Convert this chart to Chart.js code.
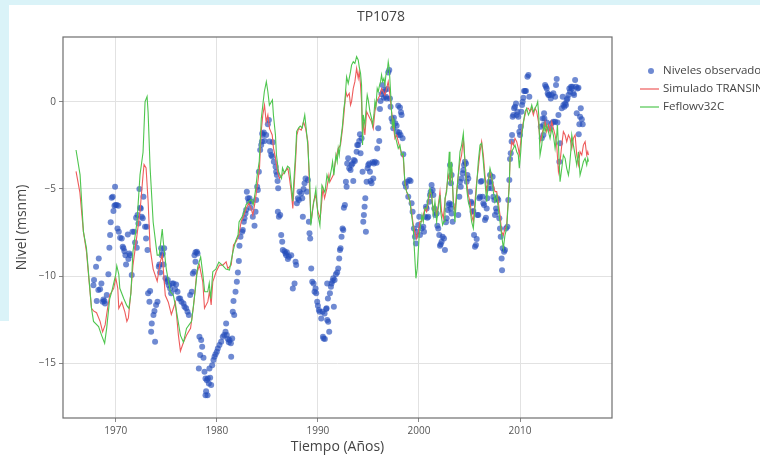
<!DOCTYPE html>
<html>
<head>
<meta charset="utf-8">
<script src="https://cdn.jsdelivr.net/npm/chart.js@4.4.1/dist/chart.umd.min.js"></script>
<style>
  html, body { margin: 0; padding: 0; }
  body { width: 760px; height: 455px; overflow: hidden; background: #daf3f8; position: relative; font-family: "Open Sans", sans-serif; }
  #w1 { position: absolute; left: 9px; top: 5px; right: 0; bottom: 0; background: #fff; }
  #w2 { position: absolute; left: 0; top: 321px; width: 9px; bottom: 0; background: #fff; }
  canvas { position: absolute; left: 0; top: 0; }
</style>
</head>
<body>
<div id="w1"></div><div id="w2"></div>
<canvas id="c" width="760" height="455"></canvas>
<script>
const chartTitle = "TP1078";
const xAxisTitle = "Tiempo (Años)";
const yAxisTitle = "Nivel (msnm)";
const seriesNames = ["Niveles observados", "Simulado TRANSIN", "Feflowv32C"];
const xTicks = [1970, 1980, 1990, 2000, 2010];
const yTicks = [-15, -10, -5, 0];
const xRange = [1964.78, 2019.1];
const yRange = [-18.14, 3.71];

// Observed levels [year, level]
const observedPoints = [
[1967.79,-10.52],[1967.85,-10.23],[1968.05,-9.46],[1968.32,-8.99],[1968.12,-11.43],[1968.28,-10.80],[1968.45,-10.75],[1968.58,-10.42],
[1968.71,-11.47],[1968.78,-11.34],[1968.88,-11.43],[1968.94,-11.57],[1969.11,-11.09],[1969.27,-9.90],[1969.37,-8.37],[1969.44,-7.65],
[1969.50,-6.92],[1969.60,-5.51],[1969.70,-5.45],[1969.77,-6.27],[1969.87,-5.97],[1969.97,-5.93],[1970.10,-5.93],[1970.26,-5.97],
[1969.93,-4.88],[1970.17,-7.27],[1970.30,-7.46],[1970.43,-7.80],[1970.59,-7.84],[1970.69,-8.32],[1970.76,-8.41],[1970.86,-8.57],
[1970.96,-8.80],[1971.02,-9.33],[1971.19,-7.61],[1971.25,-9.02],[1971.35,-8.70],[1971.42,-8.80],[1971.58,-9.94],[1971.65,-7.46],
[1971.82,-7.46],[1971.91,-8.07],[1972.01,-6.65],[1972.08,-8.37],[1972.15,-6.50],[1972.24,-6.98],[1972.34,-5.01],[1972.41,-6.08],
[1972.48,-6.12],[1972.57,-6.60],[1972.67,-6.69],[1972.74,-5.45],[1972.90,-7.17],[1973.07,-7.17],[1973.00,-7.84],[1973.14,-8.51],
[1973.20,-10.99],[1973.40,-10.86],[1973.33,-11.47],[1973.50,-13.19],[1973.56,-12.72],[1973.73,-12.24],[1973.83,-12.01],[1973.89,-13.77],
[1973.99,-11.66],[1974.13,-11.47],[1974.26,-9.46],[1974.32,-9.33],[1974.39,-9.79],[1974.49,-8.41],[1974.55,-8.80],[1974.65,-8.70],
[1974.72,-9.33],[1974.79,-8.41],[1974.92,-10.13],[1975.05,-10.33],[1975.15,-10.23],[1975.25,-10.52],[1975.38,-10.71],[1975.48,-10.99],
[1975.58,-10.42],[1975.71,-10.42],[1975.87,-10.75],[1975.97,-10.48],[1976.11,-10.90],[1976.24,-11.28],[1976.37,-11.28],[1976.50,-11.47],
[1976.70,-11.57],[1976.80,-11.76],[1976.96,-11.85],[1977.10,-12.05],[1977.23,-12.24],[1977.36,-11.09],[1977.52,-10.90],[1977.62,-9.85],
[1977.76,-9.75],[1977.89,-9.18],[1978.02,-8.60],[1978.09,-8.70],[1977.79,-8.80],[1977.89,-8.64],
[1978.28,-13.48],[1978.45,-13.67],[1978.55,-14.05],[1978.35,-14.53],[1978.68,-14.68],[1978.22,-15.30],[1978.78,-15.49],[1978.88,-15.87],
[1979.01,-15.97],[1979.11,-15.87],[1979.21,-16.16],[1979.34,-15.83],[1979.44,-16.25],[1978.94,-16.60],[1979.08,-16.83],[1978.88,-16.83],
[1979.27,-15.30],[1979.54,-15.11],[1979.67,-14.82],[1979.77,-14.63],[1979.87,-14.49],[1980.00,-14.34],[1980.10,-14.15],[1980.26,-13.96],
[1980.43,-13.77],[1980.59,-13.48],[1980.73,-13.38],[1980.86,-13.19],[1980.92,-12.72],[1980.99,-13.38],[1981.09,-13.61],[1981.19,-13.80],
[1981.25,-13.67],[1981.39,-13.86],[1981.42,-14.63],[1981.52,-13.58],[1981.58,-12.05],[1981.65,-11.43],[1981.72,-12.24],[1981.85,-10.90],
[1981.98,-10.33],[1982.08,-9.79],[1982.18,-9.14],[1982.24,-8.26],[1982.34,-7.74],[1982.51,-7.46],[1982.57,-7.36],[1982.67,-6.88],
[1982.74,-6.69],[1982.84,-6.41],[1982.90,-6.21],[1982.97,-5.16],[1983.07,-5.54],[1983.17,-5.74],[1983.23,-5.54],[1983.33,-6.08],
[1983.43,-5.74],[1983.56,-6.60],[1983.73,-7.11],[1983.83,-6.31],[1983.89,-5.64],[1983.99,-4.88],[1984.06,-5.07],[1984.16,-4.02],
[1984.29,-2.77],[1984.39,-2.49],[1984.46,-2.29],[1984.49,-1.82],[1984.55,-1.91],[1984.65,-1.76],[1984.72,-2.26],[1984.88,-1.91],
[1985.05,-1.30],[1985.15,-1.05],[1985.21,-2.29],[1985.28,-2.83],[1985.38,-3.06],[1985.48,-3.15],[1985.54,-2.33],[1985.64,-3.44],
[1985.81,-3.73],[1985.87,-4.02],[1985.94,-4.21],[1986.01,-4.55],[1986.07,-4.97],[1986.04,-6.31],[1986.14,-6.60],[1986.27,-6.50],
[1986.37,-7.65],[1986.47,-8.03],[1986.53,-8.51],[1986.70,-8.57],[1986.80,-8.70],[1986.86,-8.80],[1986.93,-8.64],[1987.03,-9.02],
[1987.13,-8.89],[1987.36,-8.80],[1987.52,-10.71],[1987.69,-10.42],[1987.79,-9.18],[1987.85,-9.37],[1987.92,-5.83],[1988.02,-5.54],
[1988.12,-5.64],[1988.18,-5.16],[1988.35,-5.26],[1988.45,-5.54],[1988.51,-6.60],[1988.58,-5.01],[1988.68,-4.68],[1988.78,-4.40],
[1988.91,-5.16],[1989.01,-4.49],[1989.11,-6.88],[1989.17,-7.55],[1989.24,-7.84],[1989.34,-9.56],[1989.44,-10.33],[1989.57,-10.42],
[1989.67,-10.90],[1989.77,-10.71],[1989.83,-10.99],[1989.93,-11.47],[1990.00,-11.70],[1990.10,-11.95],[1990.17,-12.05],[1990.33,-12.43],
[1990.50,-13.48],[1990.56,-13.58],[1990.66,-12.14],[1990.82,-11.89],[1990.92,-10.42],[1990.99,-11.28],
[1990.46,-12.05],[1990.69,-13.61],[1990.86,-11.85],[1990.92,-12.52],[1991.02,-12.62],[1991.12,-13.19],[1991.19,-10.99],[1991.29,-10.61],
[1991.35,-10.42],[1991.45,-10.29],[1991.58,-11.76],[1991.52,-10.13],[1991.65,-10.23],[1991.78,-9.90],[1991.91,-9.79],[1992.01,-9.56],
[1992.11,-8.99],[1992.18,-8.51],[1992.24,-8.41],[1992.34,-7.74],[1992.44,-7.27],[1992.51,-7.36],[1992.57,-6.08],[1992.67,-5.93],
[1992.77,-4.59],[1992.84,-4.88],[1992.90,-3.54],[1993.00,-3.25],[1993.10,-3.82],[1993.23,-3.92],[1993.33,-3.63],[1993.43,-3.54],
[1993.50,-4.55],[1993.56,-3.35],[1993.66,-3.40],[1993.83,-2.87],[1993.89,-2.49],[1993.99,-2.49],[1994.09,-2.26],[1994.16,-1.87],
[1994.22,-2.96],[1994.32,-2.10],[1994.42,-4.02],[1994.49,-6.88],[1994.55,-6.50],[1994.62,-6.02],[1994.69,-5.54],[1994.75,-7.46],
[1994.82,-4.59],[1994.92,-3.82],[1994.98,-3.63],[1995.08,-3.54],[1995.15,-4.02],[1995.21,-4.55],[1995.31,-4.68],[1995.41,-3.48],
[1995.48,-4.40],[1995.54,-3.54],[1995.64,-3.44],[1995.81,-3.50],[1995.87,-2.68],[1995.97,-1.53],[1996.07,-2.26],[1996.14,-0.42],
[1996.20,0.04],[1996.30,0.42],[1996.40,0.96],[1996.47,0.57],[1996.53,0.23],[1996.63,0.67],[1996.73,0.29],[1996.80,0.19],
[1996.86,0.73],[1996.96,1.68],[1997.06,1.82],[1997.13,0.19],[1997.19,-0.29],[1997.29,-0.96],[1997.39,-1.15],[1997.46,-1.53],
[1997.52,-0.92],[1997.66,-1.24],[1997.79,-1.38],[1997.85,-1.72],[1997.95,-0.23],[1998.12,-0.34],[1998.22,-0.61],[1998.28,-0.76],
[1997.99,-1.91],[1998.05,-1.76],[1998.18,-1.91],[1998.38,-2.10],[1998.45,-3.02],[1998.61,-4.68],[1998.71,-4.88],[1998.84,-4.59],
[1998.94,-5.45],[1999.04,-4.49],[1999.17,-4.55],[1999.27,-5.83],[1999.37,-6.31],[1999.50,-7.27],[1999.60,-7.74],[1999.70,-8.13],
[1999.77,-7.46],[1999.93,-7.07],[2000.03,-6.60],[2000.10,-7.65],[2000.26,-7.27],[2000.43,-7.17],[2000.50,-7.46],[2000.59,-6.60],
[2000.69,-6.02],[2000.76,-6.12],[2000.83,-6.65],[2000.92,-6.60],[2001.02,-5.74],[2001.09,-5.35],[2001.16,-5.16],[2001.25,-4.78],
[2001.35,-5.07],[2001.42,-5.35],[2001.52,-6.12],[2001.62,-6.50],[2001.75,-6.41],[2001.82,-7.11],[2001.91,-7.27],[2002.01,-7.65],
[2002.08,-8.26],[2002.15,-8.18],[2002.24,-8.03],[2002.34,-7.74],[2002.48,-7.84],[2002.57,-8.51],[2002.67,-6.92],[2002.74,-6.69],
[2002.84,-6.21],[2002.94,-5.93],[2003.00,-5.83],[2003.14,-6.12],[2003.23,-6.41],
[2003.07,-3.63],[2003.23,-4.21],[2003.17,-4.68],[2003.23,-5.89],[2003.33,-6.88],[2003.89,-6.50],[2003.99,-5.45],[2004.06,-4.59],
[2004.13,-4.88],[2004.22,-4.40],[2004.32,-4.11],[2004.39,-3.92],[2004.46,-3.63],[2004.55,-3.44],[2004.65,-3.54],[2004.72,-4.59],
[2004.79,-4.21],[2004.88,-4.40],[2005.05,-5.16],[2005.15,-5.74],[2005.21,-5.83],[2005.31,-6.31],[2005.38,-6.27],[2005.45,-7.65],
[2005.54,-8.32],[2005.64,-8.22],[2005.71,-7.88],[2005.78,-6.50],[2005.87,-6.50],[2005.97,-5.54],[2006.04,-5.45],[2006.11,-4.59],
[2006.20,-4.55],[2006.30,-5.45],[2006.37,-5.83],[2006.44,-5.93],[2006.53,-6.79],[2006.63,-6.65],[2006.70,-6.12],[2006.77,-5.54],
[2006.86,-4.97],[2006.96,-4.59],[2007.03,-4.21],[2007.10,-4.63],[2007.19,-4.97],[2007.29,-4.30],[2007.36,-5.45],[2007.46,-5.64],
[2007.52,-6.50],[2007.62,-6.12],[2007.69,-6.31],[2007.76,-5.54],[2007.85,-5.64],[2007.95,-6.69],[2008.02,-7.27],[2008.09,-7.74],
[2008.18,-8.99],[2008.22,-9.66],[2008.28,-8.41],[2008.42,-8.60],[2008.51,-8.51],[2008.61,-7.27],[2008.75,-7.17],[2008.84,-5.64],
[2008.94,-4.49],[2009.01,-3.29],[2009.08,-2.96],[2009.17,-2.29],[2009.21,-1.91],[2009.27,-0.86],[2009.34,-0.76],[2009.41,-0.38],
[2009.50,-0.29],[2009.60,-0.10],[2009.67,-0.76],[2009.74,-0.57],[2009.83,-0.86],[2009.93,-1.72],[2010.00,-1.91],[2010.07,-1.43],
[2010.13,-0.57],[2010.20,-0.19],[2010.26,0.00],[2010.33,0.23],[2010.40,0.61],[2010.50,0.61],[2010.59,0.61],[2010.73,1.43],
[2010.83,1.53],[2010.92,0.29],[2012.05,-1.43],[2012.15,-2.10],[2012.24,-0.96],[2012.31,-1.34],[2012.38,-0.67],[2012.48,0.96],
[2012.57,0.86],[2012.64,0.76],[2012.74,0.48],[2012.81,0.38],[2012.90,0.38],[2013.04,0.19],[2013.14,0.38],[2013.30,0.48],
[2013.47,0.29],[2013.56,0.96],[2013.63,1.30],[2013.70,-1.19],[2013.80,-0.76],[2013.89,-3.44],[2013.96,-2.39],[2014.13,-0.38],
[2014.22,0.29],[2014.29,-0.19],[2014.39,-0.29],[2014.46,-0.10],[2014.55,-0.19],[2014.62,0.10],[2014.69,0.19],[2014.79,0.38],
[2014.88,0.76],[2014.95,0.57],[2015.05,0.86],[2015.12,0.76],[2015.18,0.86],[2015.28,0.48],[2015.35,0.38],[2015.45,1.24],
[2015.54,0.86],[2015.61,-0.67],[2015.68,0.76],[2015.78,0.80],[2015.87,-1.30],[2015.94,-0.86],[2016.01,-0.38],[2016.11,-1.01],
[2016.20,-1.30],[2015.81,-1.87],[2012.41,-0.96],[2013.47,-1.15],[2013.30,-1.15],[2013.14,-1.24],[2012.64,-1.19],[2012.31,-1.91],
[2012.97,-1.53]
];

// Simulated TRANSIN [year, level]
const transinPoints = [
[1966.07,-4.0],[1966.45,-5.2],[1966.8,-7.45],[1967.1,-8.6],[1967.6,-11.85],[1967.8,-12.0],[1968.1,-12.1],[1968.45,-12.6],
[1968.7,-13.2],[1968.95,-12.8],[1969.1,-12.2],[1969.4,-11.1],[1969.6,-10.9],[1969.8,-10.7],[1970.0,-10.1],[1970.2,-10.7],
[1970.3,-11.85],[1970.6,-11.5],[1970.9,-12.05],[1971.1,-12.6],[1971.25,-12.4],[1971.5,-10.9],[1971.7,-9.4],[1972.1,-7.65],
[1972.4,-6.3],[1972.7,-4.2],[1972.8,-3.6],[1973.0,-3.8],[1973.2,-5.7],[1973.4,-8.4],[1973.7,-9.6],[1974.1,-10.3],
[1974.4,-9.2],[1974.6,-8.8],[1974.9,-11.1],[1975.2,-11.5],[1975.5,-12.2],[1975.9,-11.5],[1976.2,-13.4],[1976.4,-14.3],
[1976.7,-13.8],[1977.0,-13.4],[1977.4,-13.0],[1977.7,-11.7],[1978.0,-9.9],[1978.28,-9.37],[1978.61,-10.33],[1978.78,-11.85],
[1979.11,-11.47],[1979.27,-10.90],[1979.44,-11.66],[1979.6,-10.33],[1979.93,-9.75],[1980.26,-9.37],[1980.59,-9.37],[1980.92,-9.18],
[1981.09,-9.56],[1981.42,-9.37],[1981.65,-8.22],[1981.91,-8.03],[1982.18,-7.65],[1982.41,-6.88],[1982.64,-6.60],[1982.9,-6.12],
[1983.17,-5.83],[1983.4,-6.12],[1983.56,-6.50],[1983.76,-5.83],[1984.06,-4.59],[1984.22,-3.82],[1984.39,-1.72],[1984.55,-0.76],
[1984.72,-0.19],[1984.88,-1.15],[1985.05,-0.76],[1985.21,-1.53],[1985.48,-1.91],[1985.61,-2.68],[1985.81,-3.25],[1986.01,-4.02],
[1986.2,-4.40],[1986.47,-4.21],[1986.7,-4.02],[1987.03,-3.82],[1987.19,-4.40],[1987.36,-5.16],[1987.52,-6.12],[1987.79,-3.44],
[1987.92,-1.91],[1988.09,-1.53],[1988.35,-1.63],[1988.58,-1.15],[1988.78,-1.53],[1989.01,-2.29],[1989.17,-4.97],[1989.34,-6.88],
[1989.57,-5.74],[1989.77,-5.35],[1990.0,-6.31],[1990.23,-6.69],[1990.5,-4.97],[1990.66,-5.54],[1990.89,-4.97],[1991.09,-4.21],
[1991.19,-4.59],[1991.52,-4.21],[1991.78,-3.25],[1992.01,-2.68],[1992.24,-2.49],[1992.44,-1.53],[1992.57,-0.76],[1992.77,0.57],
[1992.9,0.29],[1993.1,0.48],[1993.23,-0.19],[1993.33,0],[1993.5,0.76],[1993.66,1.15],[1993.83,1.91],[1993.99,1.34],
[1994.09,1.72],[1994.22,0.96],[1994.32,0],[1994.42,-1.91],[1994.49,-1.15],[1994.65,-1.91],[1994.82,-0.57],[1994.98,-0.76],
[1995.15,-0.96],[1995.31,-1.15],[1995.48,-1.53],[1995.64,-0.57],[1995.81,0],[1995.97,0.19],[1996.14,0.38],[1996.3,0.76],
[1996.47,0.57],[1996.63,0.38],[1996.8,0.76],[1996.96,1.15],[1997.13,0.38],[1997.29,-0.57],[1997.46,-1.34],[1997.62,-2.10],
[1997.79,-1.91],[1998.12,-2.68],[1998.45,-3.25],[1998.61,-4.59],[1998.78,-5.16],[1999.11,-5.74],[1999.27,-6.31],[1999.44,-7.07],
[1999.6,-7.46],[1999.77,-7.84],[1999.93,-7.46],[2000.1,-6.88],[2000.26,-6.88],[2000.43,-6.50],[2000.59,-6.12],[2000.76,-6.31],
[2000.92,-5.74],[2001.09,-5.16],[2001.25,-5.35],[2001.42,-6.31],[2001.58,-5.93],[2001.75,-6.50],[2001.91,-5.93],[2002.08,-5.16],
[2002.24,-6.31],[2002.41,-6.69],[2002.57,-5.74],[2002.74,-4.97],[2002.9,-4.21],[2003.07,-4.59],[2003.23,-3.82],[2003.4,-5.74],
[2003.56,-6.31],[2003.73,-5.16],[2003.89,-4.21],[2004.06,-3.44],[2004.22,-3.06],[2004.39,-2.10],[2004.55,-3.44],[2004.72,-4.59],
[2004.88,-5.35],[2005.05,-5.74],[2005.21,-6.50],[2005.38,-6.88],[2005.54,-5.74],[2005.71,-4.59],[2005.87,-3.82],[2006.04,-2.87],
[2006.2,-2.29],[2006.37,-3.06],[2006.53,-4.21],[2006.7,-5.16],[2006.86,-4.59],[2007.03,-4.02],[2007.19,-4.40],[2007.36,-4.78],
[2007.52,-5.16],[2007.69,-5.16],[2007.85,-5.74],[2008.02,-6.50],[2008.18,-7.46],[2008.35,-7.65],[2008.51,-7.27],[2008.68,-7.07],
[2008.84,-5.54],[2008.94,-4.59],[2009.01,-3.44],[2009.17,-2.29],[2009.34,-2.49],[2009.5,-2.10],[2009.67,-2.29],[2009.83,-2.68],
[2009.93,-3.06],[2010.07,-2.29],[2010.17,-1.72],[2010.33,-1.15],[2010.5,-0.76],[2010.66,-0.38],[2010.83,-0.38],[2010.99,-0.57],
[2011.16,-0.38],[2011.32,-0.76],[2011.49,-0.38],[2011.65,-0.57],[2011.82,-1.15],[2011.98,-2.29],[2012.15,-1.91],[2012.31,-1.53],
[2012.48,-1.15],[2012.64,-1.72],[2012.81,-1.34],[2012.97,-1.72],[2013.14,-1.15],[2013.3,-1.53],[2013.47,-1.91],[2013.63,-2.49],
[2013.8,-4.02],[2013.96,-3.44],[2014.13,-2.49],[2014.29,-1.72],[2014.46,-1.91],[2014.62,-2.29],[2014.79,-1.91],[2014.95,-2.10],
[2015.12,-2.68],[2015.28,-2.10],[2015.45,-1.91],[2015.61,-3.06],[2015.78,-3.63],[2015.94,-2.87],[2016.11,-3.06],[2016.27,-2.49],
[2016.44,-2.29],[2016.6,-3.06],[2016.7,-2.87],[2016.77,-3.06]
];

// Feflowv32C [year, level]
const feflowPoints = [
[1966.07,-2.77],[1966.47,-4.2],[1966.8,-7.45],[1967.1,-8.4],[1967.6,-11.85],[1967.8,-12.6],[1968.3,-12.9],[1968.6,-13.4],
[1968.9,-13.85],[1969.1,-13.0],[1969.4,-11.3],[1969.6,-10.9],[1970.0,-9.9],[1970.1,-9.4],[1970.3,-9.9],[1970.4,-10.7],
[1970.8,-11.3],[1971.1,-11.7],[1971.3,-11.85],[1971.5,-11.0],[1971.7,-8.6],[1972.1,-6.9],[1972.4,-4.2],[1972.7,-2.9],
[1972.9,0],[1973.1,0.3],[1973.2,-0.6],[1973.4,-3.8],[1973.7,-6.9],[1974.1,-8.8],[1974.3,-8.8],[1974.6,-7.3],
[1974.7,-8.0],[1975.0,-9.6],[1975.4,-10.9],[1975.7,-11.1],[1976.0,-12.0],[1976.4,-13.4],[1976.7,-13.8],[1977.0,-13.0],
[1977.5,-12.6],[1977.85,-10.9],[1978.1,-9.5],[1978.4,-8.9],[1978.6,-9.8],[1978.8,-10.9],[1979.1,-10.9],[1979.25,-10.4],
[1979.4,-11.3],[1979.6,-9.75],[1979.9,-9.6],[1980.2,-9.2],[1980.6,-9.4],[1980.9,-9.6],[1981.25,-9.65],[1981.6,-8.6],
[1981.85,-8.0],[1982.1,-7.65],[1982.2,-6.9],[1982.5,-6.6],[1982.7,-6.3],[1982.9,-5.9],[1983.2,-5.7],[1983.4,-5.6],
[1983.6,-5.9],[1983.8,-5.2],[1984.0,-4.2],[1984.2,-3.4],[1984.4,-0.96],[1984.55,-0.2],[1984.7,0.57],[1984.9,1.15],
[1985.05,0.57],[1985.2,-0.2],[1985.4,0],[1985.5,0.1],[1985.6,-0.76],[1985.8,-1.9],[1985.9,-3.06],[1986.1,-4.0],
[1986.4,-4.4],[1986.5,-3.8],[1986.7,-4.1],[1987.0,-3.7],[1987.2,-3.8],[1987.4,-5.0],[1987.5,-5.7],[1987.8,-2.9],
[1987.9,-1.7],[1988.1,-1.5],[1988.25,-1.4],[1988.45,-1.5],[1988.7,-0.76],[1988.8,-1.3],[1989.0,-2.5],[1989.2,-4.6],
[1989.3,-7.1],[1989.5,-6.1],[1989.8,-5.0],[1990.0,-6.5],[1990.2,-7.1],[1990.4,-4.8],[1990.7,-5.2],[1990.9,-4.2],
[1991.1,-4.6],[1991.35,-3.82],[1991.45,-3.44],[1991.58,-4.21],[1991.78,-3.06],[1991.91,-3.44],[1992.01,-2.68],[1992.11,-3.06],
[1992.24,-2.29],[1992.44,-1.34],[1992.57,-0.38],[1992.67,0],[1992.84,1.43],[1993.0,1.05],[1993.1,1.34],[1993.23,1.72],
[1993.33,2.10],[1993.5,2.29],[1993.66,2.20],[1993.83,2.58],[1993.99,2.39],[1994.09,2.0],[1994.22,1.63],[1994.32,0.96],
[1994.42,-2.49],[1994.49,-0.76],[1994.65,-1.34],[1994.82,0],[1994.88,0.38],[1994.98,0.10],[1995.15,-0.57],[1995.31,-0.96],
[1995.41,-1.34],[1995.54,-0.76],[1995.64,0],[1995.74,-0.29],[1995.87,0.76],[1995.97,0.57],[1996.07,0.86],[1996.2,1.15],
[1996.3,1.53],[1996.4,1.15],[1996.53,1.34],[1996.63,0.96],[1996.73,1.53],[1996.86,1.72],[1996.96,2.29],[1997.06,1.91],
[1997.19,0.57],[1997.29,-0.57],[1997.39,-1.53],[1997.52,-0.96],[1997.62,-1.91],[1997.79,-2.29],[1997.95,-2.68],[1998.12,-2.49],
[1998.28,-3.06],[1998.45,-2.96],[1998.61,-4.78],[1998.78,-5.16],[1998.94,-5.35],[1999.11,-5.74],[1999.27,-6.50],[1999.44,-7.27],
[1999.54,-8.41],[1999.7,-10.13],[1999.83,-9.56],[1999.93,-8.60],[2000.03,-7.65],[2000.17,-7.07],[2000.3,-6.50],[2000.43,-6.88],
[2000.59,-6.12],[2000.76,-6.12],[2000.92,-5.54],[2001.09,-4.97],[2001.25,-5.35],[2001.42,-6.50],[2001.58,-5.74],[2001.75,-6.88],
[2001.91,-6.12],[2002.08,-5.35],[2002.15,-6.31],[2002.34,-7.07],[2002.48,-6.88],[2002.57,-5.54],[2002.74,-5.16],[2002.9,-3.82],
[2003.0,-2.87],[2003.07,-4.78],[2003.23,-3.44],[2003.4,-5.74],[2003.56,-6.88],[2003.73,-5.35],[2003.89,-4.21],[2004.06,-2.87],
[2004.22,-2.49],[2004.39,-1.82],[2004.55,-3.44],[2004.72,-4.97],[2004.88,-5.74],[2005.05,-6.12],[2005.21,-6.88],[2005.38,-7.27],
[2005.54,-6.12],[2005.71,-4.78],[2005.87,-3.44],[2006.04,-2.49],[2006.2,-2.39],[2006.37,-3.44],[2006.53,-4.59],[2006.7,-5.74],
[2006.86,-4.59],[2007.03,-3.82],[2007.19,-4.21],[2007.36,-5.16],[2007.52,-5.74],[2007.69,-5.35],[2007.85,-6.12],[2008.02,-6.88],
[2008.18,-7.65],[2008.35,-8.41],[2008.51,-7.65],[2008.68,-7.27],[2008.84,-5.74],[2008.94,-4.78],[2009.01,-3.25],[2009.17,-2.87],
[2009.34,-2.68],[2009.5,-2.49],[2009.67,-2.87],[2009.83,-3.06],[2009.93,-3.82],[2010.07,-2.87],[2010.17,-1.91],[2010.26,-1.53],
[2010.4,-0.96],[2010.5,-0.57],[2010.66,-0.38],[2010.83,-0.76],[2010.99,-0.57],[2011.16,-0.19],[2011.32,-0.57],[2011.49,-0.38],
[2011.65,-0.19],[2011.75,0],[2011.85,-0.76],[2011.98,-3.06],[2012.15,-2.49],[2012.24,-1.91],[2012.38,-1.34],[2012.48,-1.72],
[2012.64,-1.34],[2012.81,-1.72],[2012.97,-2.10],[2013.14,-1.53],[2013.3,-1.91],[2013.47,-2.68],[2013.63,-1.91],[2013.7,-1.34],
[2013.8,-2.49],[2013.96,-4.59],[2014.13,-3.82],[2014.29,-3.06],[2014.46,-3.25],[2014.62,-3.82],[2014.79,-4.21],[2014.88,-3.82],
[2015.02,-2.87],[2015.12,-1.91],[2015.28,-2.49],[2015.45,-3.06],[2015.61,-3.63],[2015.78,-2.87],[2015.94,-4.21],[2016.11,-3.82],
[2016.27,-3.44],[2016.44,-3.25],[2016.6,-3.63],[2016.7,-3.25],[2016.77,-3.44]
];

const seriesColors = ["rgba(36,78,186,0.66)", "#ee5c5c", "#4fc64f"];
const FONT = '"Open Sans", "Liberation Sans", sans-serif';

const toXY = arr => arr.map(p => ({x: p[0], y: p[1]}));

const overlay = {
  id: 'overlay',
  afterDraw(chart) {
    const {ctx, chartArea: a} = chart;
    ctx.save();
    ctx.strokeStyle = '#6e6e6e';
    ctx.lineWidth = 1.2;
    ctx.strokeRect(a.left, a.top, a.right - a.left, a.bottom - a.top);
    ctx.fillStyle = '#444';
    ctx.font = '14px ' + FONT;
    ctx.textAlign = 'center';
    ctx.textBaseline = 'middle';
    ctx.fillText(chartTitle, 381, 17);
    ctx.font = '11.5px ' + FONT;
    ctx.textAlign = 'left';
    const lx = 663, rows = [71, 89, 107];
    chart.data.datasets.forEach((ds, i) => {
      const y = rows[i];
      if (i === 0) {
        ctx.fillStyle = ds.backgroundColor;
        ctx.beginPath(); ctx.arc(651, y, 3, 0, Math.PI * 2); ctx.fill();
      } else {
        ctx.strokeStyle = ds.borderColor; ctx.lineWidth = 1.2;
        ctx.beginPath(); ctx.moveTo(640, y); ctx.lineTo(659, y); ctx.stroke();
      }
      ctx.fillStyle = '#444';
      ctx.fillText(ds.label, lx, y);
    });
    ctx.restore();
  }
};

new Chart(document.getElementById('c'), {
  type: 'scatter',
  data: {
    datasets: [
      { label: seriesNames[0], data: toXY(observedPoints), showLine: false, pointRadius: 3, pointHoverRadius: 3,
        backgroundColor: seriesColors[0], borderWidth: 0, order: 3 },
      { label: seriesNames[1], data: toXY(transinPoints), showLine: true, pointRadius: 0, borderColor: seriesColors[1],
        backgroundColor: seriesColors[1], borderWidth: 1.1, tension: 0, order: 2 },
      { label: seriesNames[2], data: toXY(feflowPoints), showLine: true, pointRadius: 0, borderColor: seriesColors[2],
        backgroundColor: seriesColors[2], borderWidth: 1.1, tension: 0, order: 1 }
    ]
  },
  options: {
    responsive: false,
    animation: false,
    events: [],
    layout: { padding: { left: 0, top: 37, right: 148, bottom: 0 } },
    plugins: { legend: { display: false }, title: { display: false }, tooltip: { enabled: false } },
    scales: {
      x: {
        type: 'linear', min: xRange[0], max: xRange[1],
        afterBuildTicks: s => { s.ticks = xTicks.map(v => ({value: v})); },
        afterFit: s => { s.height = 37; },
        grid: { color: '#e2e2e2', lineWidth: 1, tickLength: 4, tickColor: '#888' },
        border: { display: false },
        ticks: { font: { family: FONT, size: 10 }, color: '#555', padding: 3, maxRotation: 0, callback: v => String(v) },
        title: { display: true, text: xAxisTitle, font: { family: FONT, size: 14 }, color: '#444', padding: { top: 0, bottom: 0 } }
      },
      y: {
        type: 'linear', min: yRange[0], max: yRange[1],
        afterBuildTicks: s => { s.ticks = yTicks.map(v => ({value: v})); },
        afterFit: s => { s.width = 63; },
        grid: { color: '#e2e2e2', lineWidth: 1, tickLength: 4, tickColor: '#888' },
        border: { display: false },
        ticks: { font: { family: FONT, size: 10 }, color: '#555', padding: 3, callback: v => (v < 0 ? '\u2212' + Math.abs(v) : String(v)) },
        title: { display: true, text: yAxisTitle, font: { family: FONT, size: 14 }, color: '#444', padding: { top: 14, bottom: 0 } }
      }
    }
  },
  plugins: [overlay]
});
</script>
</body>
</html>
